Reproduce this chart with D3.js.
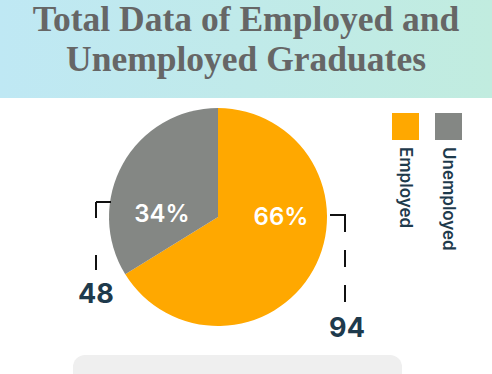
<!DOCTYPE html>
<html>
<head>
<meta charset="utf-8">
<script src="https://cdn.jsdelivr.net/npm/d3@7"></script>
<style>
  body { margin: 0; background: #ffffff; }
  svg { display: block; }
</style>
</head>
<body>
<div id="chart"></div>
<script>
// données
const categories = ["Employed", "Unemployed"]
const counts = [94, 48]
const percentLabels = ["66%", "34%"]
const titleLines = ["Total Data of Employed and", "Unemployed Graduates"]

const width = 492
const height = 374
const colors = ["#ffa800", "#848784"]
const darkText = "#1e3a4c"
const sans = "Inter, Roboto, sans-serif"

const svg = d3.select("#chart")
    .append("svg")
    .attr("width", width)
    .attr("height", height)

// bandeau du titre
const defs = svg.append("defs")
const grad = defs.append("linearGradient").attr("id", "bandeau")
grad.append("stop").attr("offset", "0%").attr("stop-color", "#bfe8f4")
grad.append("stop").attr("offset", "100%").attr("stop-color", "#c1ecdf")

svg.append("rect")
    .attr("x", 0).attr("y", 0)
    .attr("width", width).attr("height", 98)
    .attr("fill", "url(#bandeau)")

svg.selectAll("text.titre")
    .data(titleLines)
    .enter()
    .append("text")
    .attr("class", "titre")
    .attr("x", width / 2)
    .attr("y", (d, i) => 31 + i * 40)
    .attr("text-anchor", "middle")
    .attr("font-family", "Liberation Serif, serif")
    .attr("font-weight", "bold")
    .attr("font-size", "35.5px")
    .attr("fill", "#666666")
    .text(d => d)

// camembert
const cx = 218, cy = 217, radius = 109

const pie = d3.pie().sort(null).value(d => d)
const arc = d3.arc().innerRadius(0).outerRadius(radius)
const arcs = pie(counts)

const g = svg.append("g").attr("transform", `translate(${cx},${cy})`)

g.selectAll("path")
    .data(arcs)
    .enter()
    .append("path")
    .attr("d", arc)
    .attr("fill", (d, i) => colors[i])

// pourcentages dans les parts
g.selectAll("text.pct")
    .data(arcs)
    .enter()
    .append("text")
    .attr("class", "pct")
    .attr("x", d => arc.centroid(d)[0] > 0 ? 63 : -56)
    .attr("y", d => arc.centroid(d)[0] > 0 ? 8 : 5)
    .attr("text-anchor", "middle")
    .attr("font-family", sans)
    .attr("font-weight", "600")
    .attr("font-size", "24px")
    .attr("fill", "#ffffff")
    .text((d, i) => percentLabels[i])

// crochets pointillés + valeurs
// gauche : Unemployed
svg.append("line")
    .attr("x1", 96).attr("y1", 202).attr("x2", 111).attr("y2", 202)
    .attr("stroke", "#111").attr("stroke-width", 2)
svg.append("line")
    .attr("x1", 96).attr("y1", 202).attr("x2", 96).attr("y2", 270)
    .attr("stroke", "#111").attr("stroke-width", 2)
    .attr("stroke-dasharray", "16,37")
svg.append("text")
    .attr("x", 96).attr("y", 303)
    .attr("text-anchor", "middle")
    .attr("font-family", sans)
    .attr("font-weight", "bold")
    .attr("font-size", "27px")
    .attr("fill", darkText)
    .text(counts[1])

// droite : Employed
svg.append("line")
    .attr("x1", 330).attr("y1", 215).attr("x2", 346).attr("y2", 215)
    .attr("stroke", "#111").attr("stroke-width", 2)
svg.append("line")
    .attr("x1", 345).attr("y1", 215).attr("x2", 345).attr("y2", 303)
    .attr("stroke", "#111").attr("stroke-width", 2)
    .attr("stroke-dasharray", "17,18")
svg.append("text")
    .attr("x", 347).attr("y", 337)
    .attr("text-anchor", "middle")
    .attr("font-family", sans)
    .attr("font-weight", "bold")
    .attr("font-size", "27px")
    .attr("fill", darkText)
    .text(counts[0])

// légende
const legende = svg.selectAll("g.legende")
    .data(categories)
    .enter()
    .append("g")
    .attr("class", "legende")
    .attr("transform", (d, i) => `translate(${392 + i * 43},113)`)

legende.append("rect")
    .attr("width", 27).attr("height", 27)
    .attr("fill", (d, i) => colors[i])

legende.append("text")
    .attr("transform", "translate(8,34) rotate(90)")
    .attr("font-family", sans)
    .attr("font-weight", "600")
    .attr("font-size", "17px")
    .attr("fill", darkText)
    .text(d => d)

// carte grise en bas
svg.append("rect")
    .attr("x", 73).attr("y", 355)
    .attr("width", 329).attr("height", 40)
    .attr("rx", 12)
    .attr("fill", "#efefef")
</script>
</body>
</html>
